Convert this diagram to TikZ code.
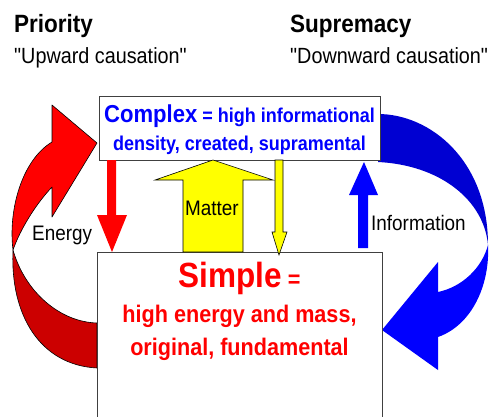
\documentclass[tikz,border=0pt]{standalone}
\usepackage{fontspec}
\setmainfont{Liberation Sans}[FakeStretch=0.9, Ligatures=TeXOff]
\usepackage{xcolor}
\usetikzlibrary{positioning}

\definecolor{energyred}{RGB}{255,0,0}
\definecolor{energydark}{RGB}{204,0,0}
\definecolor{infoblue}{RGB}{0,0,255}
\definecolor{infodark}{RGB}{0,0,210}
\definecolor{matteryellow}{RGB}{255,255,0}

\tikzset{
	heading/.style={font=\bfseries\fontsize{25}{30}\selectfont, anchor=base west, inner sep=0},
	subheading/.style={font=\fontsize{22}{26}\selectfont, anchor=base west, inner sep=0},
	flowlabel/.style={font=\fontsize{21}{25}\selectfont, inner sep=0},
	levelbox/.style={draw=black!75, fill=white, line width=0.8pt, anchor=north west, inner sep=0},
	complextext/.style={font=\bfseries\fontsize{20}{24}\selectfont, text=infoblue, anchor=base, inner sep=0},
	simpletext/.style={font=\bfseries\fontsize{24}{28}\selectfont, text=energyred, anchor=base, inner sep=0},
	band/.style={draw=black, line width=0.6pt, line join=round},
	outlined/.style={draw=black, line width=0.6pt}
}

\begin{document}
\begin{tikzpicture}[x=1pt, y=-1pt]
	\useasboundingbox (0,0) rectangle (493,416);
	
	% curved energy band (left)
	\fill[band, fill=energydark] (13,250) .. controls (10,315) and (40,365) .. (97,368)
		-- (97,323) .. controls (60,322) and (25,292) .. cycle;
	\fill[band, fill=energyred] (52,105) -- (97,143) -- (52,217) -- (52,187)
		.. controls (35,205) and (20,230) .. (13,250)
		.. controls (8,210) and (22,160) .. (52,142) -- cycle;
	
	% curved information band (right)
	\fill[infodark] (378,114) .. controls (430,114) and (488,160) .. (488,245)
		.. controls (484,200) and (440,165) .. (378,162) -- cycle;
	\fill[infoblue] (488,245) .. controls (490,285) and (472,325) .. (438,337)
		-- (438,370) -- (382,330) -- (438,262) -- (438,292)
		.. controls (462,287) and (482,268) .. cycle;
	
	% levels
	\node[levelbox, minimum width=281, minimum height=64] (complex) at (99,96) {};
	\node[levelbox, minimum width=285, minimum height=180] (simple) at (97,252) {};
	
	% straight arrows
	\fill[energyred] (107,160) -- (107,215) -- (97,215) -- (112,252) -- (127,215) -- (116,215) -- (116,160) -- cycle;
	\fill[infoblue] (358,248) -- (358,195) -- (349,195) -- (364,162) -- (378,195) -- (368,195) -- (368,248) -- cycle;
	\filldraw[outlined, fill=matteryellow] (183,252) -- (183,180) -- (155,180) -- (213,160) -- (273,180) -- (243,180) -- (243,252) -- cycle;
	\filldraw[outlined, fill=matteryellow] (275,160) -- (275,232) -- (272,232) -- (279,255) -- (287,232) -- (283,232) -- (283,160) -- cycle;
	
	% headings
	\node[heading] (priority) at (14,32) {Priority};
	\node[subheading] (upward) at (14,63) {"Upward causation"};
	\node[heading] (supremacy) at (290,32) {Supremacy};
	\node[subheading] (downward) at (290,63) {"Downward causation"};
	
	% box texts
	\node[complextext] (complexA) at (239.5,122) {{\fontsize{24.5}{28}\selectfont Complex} = high informational};
	\node[complextext] (complexB) at (239.5,150) {density, created, supramental};
	\node[simpletext] (simpleA) at (239.5,287) {{\fontsize{35}{40}\selectfont Simple} =};
	\node[simpletext] (simpleB) at (239.5,322) {high energy and mass,};
	\node[simpletext] (simpleC) at (239.5,355) {original, fundamental};
	
	% flow labels
	\node[flowlabel, anchor=base west] (energy) at (32,240) {Energy};
	\node[flowlabel, anchor=base] (matter) at (212,215) {Matter};
	\node[flowlabel, anchor=base west] (information) at (371,230) {Information};
	
\end{tikzpicture}
\end{document}
